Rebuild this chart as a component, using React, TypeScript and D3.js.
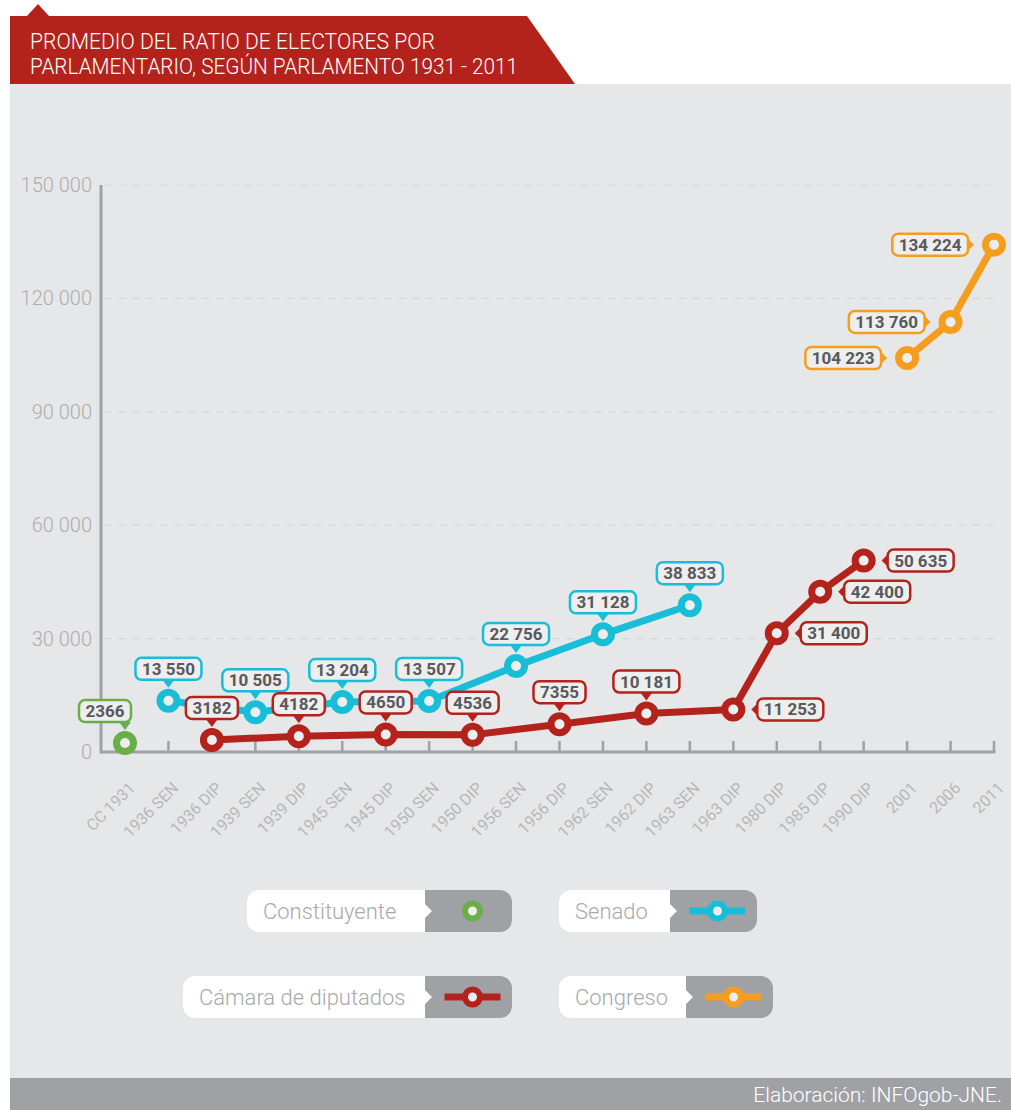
import React from "react";
import * as d3 from "d3";

const categories = [
  "CC 1931", "1936 SEN", "1936 DIP", "1939 SEN", "1939 DIP", "1945 SEN", "1945 DIP",
  "1950 SEN", "1950 DIP", "1956 SEN", "1956 DIP", "1962 SEN", "1962 DIP", "1963 SEN",
  "1963 DIP", "1980 DIP", "1985 DIP", "1990 DIP", "2001", "2006", "2011",
];
const yTicks = [0, 30000, 60000, 90000, 120000, 150000];

const constituyenteCats = ["CC 1931"];
const constituyenteVals = [2366];
const senadoCats = ["1936 SEN", "1939 SEN", "1945 SEN", "1950 SEN", "1956 SEN", "1962 SEN", "1963 SEN"];
const senadoVals = [13550, 10505, 13204, 13507, 22756, 31128, 38833];
const diputadosCats = ["1936 DIP", "1939 DIP", "1945 DIP", "1950 DIP", "1956 DIP", "1962 DIP", "1963 DIP", "1980 DIP", "1985 DIP", "1990 DIP"];
const diputadosVals = [3182, 4182, 4650, 4536, 7355, 10181, 11253, 31400, 42400, 50635];
const congresoCats = ["2001", "2006", "2011"];
const congresoVals = [104223, 113760, 134224];

const legendNames = ["Constituyente", "Senado", "Cámara de diputados", "Congreso"];
const titleLines = ["PROMEDIO DEL RATIO DE ELECTORES POR", "PARLAMENTARIO, SEGÚN PARLAMENTO 1931 - 2011"];
const sourceText = "Elaboración: INFOgob-JNE.";

const GREEN = "#6aae4a";
const BLUE = "#18bed8";
const RED = "#b3221b";
const ORANGE = "#f69d1d";
const TXT = "#58595b";
const HOLE = "#eeeeef";
const LABEL_SIZE = 17;

const locale = d3.formatLocale({ decimal: ",", thousands: " ", grouping: [3], currency: ["", ""] });
const fmtGroup = locale.format(",");
const fmt = (v: number) => (v >= 10000 ? fmtGroup(v) : String(v));

let ctx: CanvasRenderingContext2D | null = null;
function measure(t: string, font: string) {
  if (!ctx) ctx = document.createElement("canvas").getContext("2d");
  if (!ctx) return t.length * 9;
  ctx.font = font;
  return ctx.measureText(t).width;
}

const x = d3.scalePoint<string>().domain(categories).range([125, 994]);
const y = d3.scaleLinear().domain([0, 150000]).range([752, 185]);

type Side = "above" | "right" | "left";

function Label({ px, py, value, color, side, dx = 0 }: { px: number; py: number; value: number; color: string; side: Side; dx?: number }) {
  const text = fmt(value);
  const font = `bold ${LABEL_SIZE}px Roboto`;
  const w = measure(text, font) + 13;
  const h = 22;
  const tp = { fontFamily: "Roboto", fontWeight: "bold" as const, fontSize: LABEL_SIZE, fill: TXT, textAnchor: "middle" as const };
  if (side === "above") {
    const cx = px + dx;
    const by = py - 21;
    return (
      <g>
        <path d={`M${px - 6},${by} L${px + 6},${by} L${px},${py - 13} Z`} fill={color} />
        <rect x={cx - w / 2} y={by - h} width={w} height={h} rx={6} fill={HOLE} stroke={color} strokeWidth={2.5} />
        <text x={cx} y={by - h / 2 + 6} {...tp}>{text}</text>
      </g>
    );
  }
  if (side === "right") {
    const bx = px + 24;
    return (
      <g>
        <path d={`M${bx},${py - 6} L${bx},${py + 6} L${px + 18},${py} Z`} fill={color} />
        <rect x={bx} y={py - h / 2} width={w} height={h} rx={6} fill={HOLE} stroke={color} strokeWidth={2.5} />
        <text x={bx + w / 2} y={py + 6} {...tp}>{text}</text>
      </g>
    );
  }
  const bx = px - 26;
  return (
    <g>
      <path d={`M${bx},${py - 6} L${bx},${py + 6} L${px - 20},${py} Z`} fill={color} />
      <rect x={bx - w} y={py - h / 2} width={w} height={h} rx={6} fill={HOLE} stroke={color} strokeWidth={2.5} />
      <text x={bx - w / 2} y={py + 6} {...tp}>{text}</text>
    </g>
  );
}

function Series({ cats, vals, color, sideFor, dxFor }: { cats: string[]; vals: number[]; color: string; sideFor: (i: number) => Side; dxFor?: (i: number) => number }) {
  const pts = cats.map((c, i) => [x(c) as number, y(vals[i])] as [number, number]);
  const line = d3.line();
  return (
    <g>
      {pts.length > 1 && <path d={line(pts) || ""} fill="none" stroke={color} strokeWidth={7} strokeLinejoin="round" />}
      {pts.map((p, i) => (
        <circle key={i} cx={p[0]} cy={p[1]} r={8.5} fill={HOLE} stroke={color} strokeWidth={7} />
      ))}
      {pts.map((p, i) => (
        <Label key={"l" + i} px={p[0]} py={p[1]} value={vals[i]} color={color} side={sideFor(i)} dx={dxFor ? dxFor(i) : 0} />
      ))}
    </g>
  );
}

function LegendItem({ x0, xg, x2, y0, name, color, withLine }: { x0: number; xg: number; x2: number; y0: number; name: string; color: string; withLine: boolean }) {
  const h = 42;
  const y1 = y0 + h;
  const ym = y0 + h / 2;
  const r = 12;
  const cx = (xg + x2) / 2 + 4;
  return (
    <g>
      <rect x={x0} y={y0} width={x2 - x0} height={h} rx={r} fill="#ffffff" />
      <path
        d={`M${xg},${y0} H${x2 - r} A${r},${r} 0 0 1 ${x2},${y0 + r} V${y1 - r} A${r},${r} 0 0 1 ${x2 - r},${y1} H${xg} V${ym + 7} L${xg + 7},${ym} L${xg},${ym - 7} Z`}
        fill="#a0a1a4"
      />
      <text x={x0 + 16} y={ym + 8} fontFamily="Roboto" fontWeight={300} fontSize={22} fill="#a7a9ac">{name}</text>
      {withLine && <line x1={cx - 28} x2={cx + 28} y1={ym} y2={ym} stroke={color} strokeWidth={7} />}
      <circle cx={cx} cy={ym} r={7.5} fill={HOLE} stroke={color} strokeWidth={6} />
    </g>
  );
}

export default function App() {
  const W = 1011;
  const H = 1110;
  return (
    <svg width={W} height={H} style={{ position: "absolute", left: 0, top: 0 }}>
      <rect x={0} y={0} width={W} height={H} fill="#ffffff" />
      <rect x={10} y={84} width={W - 10} height={994} fill="#e6e7e8" />
      {/* title banner */}
      <path d="M10,16 H27 L38,4 L49,16 H527 L575,84 H10 Z" fill="#b3221b" />
      {titleLines.map((t, i) => (
        <text key={i} x={30} y={49 + i * 25} fontFamily="Roboto" fontWeight={300} fontSize={22} fill="#ffffff"
          textLength={i === 0 ? 405 : 488} lengthAdjust="spacingAndGlyphs">{t}</text>
      ))}
      {/* gridlines */}
      {yTicks.filter((t) => t > 0).map((t) => (
        <line key={t} x1={104} x2={995} y1={y(t)} y2={y(t)} stroke="#d6d7d9" strokeWidth={1.2} strokeDasharray="8,6" />
      ))}
      {/* y axis */}
      <line x1={101} x2={101} y1={y(150000)} y2={y(0) + 1.5} stroke="#a0a1a4" strokeWidth={3} />
      {yTicks.map((t) => (
        <text key={t} x={92} y={y(t) + 7} textAnchor="end" fontFamily="Roboto" fontWeight={300} fontSize={20} fill="#acadaf">{fmtGroup(t)}</text>
      ))}
      {/* x axis */}
      <line x1={101} x2={995.5} y1={y(0)} y2={y(0)} stroke="#a0a1a4" strokeWidth={3} />
      {categories.map((c) => (
        <g key={c}>
          <line x1={x(c)} x2={x(c)} y1={y(0)} y2={y(0) - 11} stroke="#a0a1a4" strokeWidth={2.5} />
          <text transform={`translate(${(x(c) as number) + 11},${y(0) + 37}) rotate(-45)`} textAnchor="end"
            fontFamily="Roboto" fontWeight={400} fontSize={16} fill="#b6b7b9">{c}</text>
        </g>
      ))}
      {/* series */}
      <Series cats={constituyenteCats} vals={constituyenteVals} color={GREEN} sideFor={() => "above"} dxFor={() => -20} />
      <Series cats={senadoCats} vals={senadoVals} color={BLUE} sideFor={() => "above"} />
      <Series cats={diputadosCats} vals={diputadosVals} color={RED} sideFor={(i) => (i >= 6 ? "right" : "above")} />
      <Series cats={congresoCats} vals={congresoVals} color={ORANGE} sideFor={() => "left"} />
      {/* legend */}
      <LegendItem x0={247} xg={425} x2={512} y0={890} name={legendNames[0]} color={GREEN} withLine={false} />
      <LegendItem x0={559} xg={670} x2={757} y0={890} name={legendNames[1]} color={BLUE} withLine={true} />
      <LegendItem x0={183} xg={425} x2={512} y0={976} name={legendNames[2]} color={RED} withLine={true} />
      <LegendItem x0={559} xg={686} x2={773} y0={976} name={legendNames[3]} color={ORANGE} withLine={true} />
      {/* footer */}
      <rect x={10} y={1078} width={W - 10} height={32} fill="#a0a1a4" />
      <text x={1002} y={1102} textAnchor="end" fontFamily="Roboto" fontWeight={300} fontSize={21} fill="#ffffff">{sourceText}</text>
    </svg>
  );
}
